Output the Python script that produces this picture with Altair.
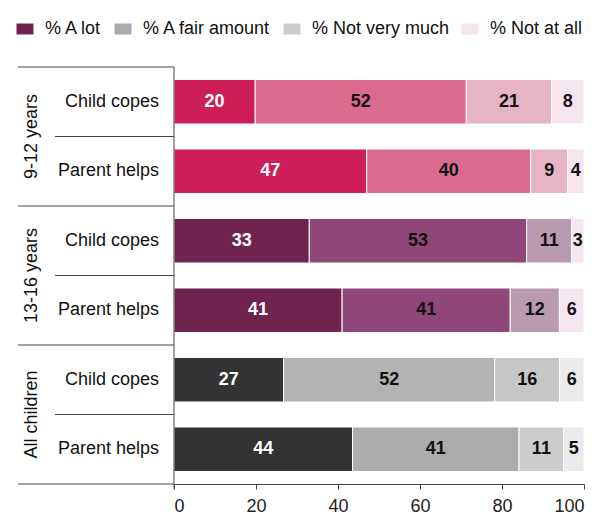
import altair as alt
import pandas as pd

# ---- data ----
categories = ["% A lot", "% A fair amount", "% Not very much", "% Not at all"]
groups = ["9-12 years", "13-16 years", "All children"]
rows = ["Child copes", "Parent helps"]
values = {
    ("9-12 years", "Child copes"): [20, 52, 21, 8],
    ("9-12 years", "Parent helps"): [47, 40, 9, 4],
    ("13-16 years", "Child copes"): [33, 53, 11, 3],
    ("13-16 years", "Parent helps"): [41, 41, 12, 6],
    ("All children", "Child copes"): [27, 52, 16, 6],
    ("All children", "Parent helps"): [44, 41, 11, 5],
}
ticks = [0, 20, 40, 60, 80, 100]

# ---- styles ----
palette = {
    ("9-12 years", "Child copes"): ["#CD1E58", "#DA6B8E", "#E7B4C5", "#F5E5EF"],
    ("9-12 years", "Parent helps"): ["#CD1E58", "#DA6B8E", "#E7B4C5", "#F5E5EF"],
    ("13-16 years", "Child copes"): ["#6F244F", "#8E4778", "#B99AAF", "#F5E6F0"],
    ("13-16 years", "Parent helps"): ["#6F244F", "#8E4778", "#B99AAF", "#F5E6F0"],
    ("All children", "Child copes"): ["#333333", "#B3B3B3", "#C6C6C6", "#EAEAEA"],
    ("All children", "Parent helps"): ["#333333", "#ACACAC", "#CCCCCC", "#EAEAEA"],
}
legend_colors = ["#6E2350", "#ABABAB", "#CCCCCC", "#F5E5EF"]
FONT = "Liberation Sans"
FS = 18
LINE = "#444444"

recs = []
for gi, g in enumerate(groups):
    for ri, r in enumerate(rows):
        idx = gi * 2 + ri
        vals = values[(g, r)]
        tot = sum(vals)
        start = 0.0
        for ci, c in enumerate(categories):
            pct = vals[ci] / tot * 100
            recs.append({
                "group": g, "row": r, "cat": c, "value": vals[ci],
                "x0": start, "x1": start + pct, "xm": start + pct / 2,
                "ytop": idx + 0.18, "ybot": idx + 0.82, "ymid": idx + 0.5,
                "color": palette[(g, r)][ci],
                "tcol": "#FFFFFF" if ci == 0 else "#111111",
            })
            start += pct
df = pd.DataFrame(recs)

row_df = pd.DataFrame([{"label": r, "ymid": gi * 2 + ri + 0.5}
                       for gi, g in enumerate(groups) for ri, r in enumerate(rows)])
group_df = pd.DataFrame([{"label": g, "ymid": gi * 2 + 1.0} for gi, g in enumerate(groups)])
outer_df = pd.DataFrame({"y": [gi * 2 for gi in range(len(groups) + 1)]})
inner_df = pd.DataFrame({"y": [gi * 2 + 1 for gi in range(len(groups))]})
leg_df = pd.DataFrame({"cat": categories})

yscale = alt.Scale(domain=[0, 6], reverse=True)
xscale = alt.Scale(domain=[0, 100], nice=False)

bars = alt.Chart(df).mark_bar(stroke="white", strokeWidth=1).encode(
    x=alt.X("x0:Q", scale=xscale,
            axis=alt.Axis(values=ticks, grid=False, title=None, domainColor=LINE,
                          tickColor=LINE, tickSize=5, labelFontSize=FS, labelFont=FONT,
                          labelColor="#222222", labelPadding=8, domainWidth=1)),
    x2="x1:Q",
    y=alt.Y("ytop:Q", scale=yscale, axis=None),
    y2="ybot:Q",
    fill=alt.Fill("color:N", scale=None),
)

labels = alt.Chart(df).mark_text(font=FONT, fontSize=FS, fontWeight="bold",
                                 align="center", baseline="middle").encode(
    x="xm:Q", y="ymid:Q", text="value:Q",
    fill=alt.Fill("tcol:N", scale=None),
)

outer = alt.Chart(outer_df).mark_rule(color=LINE, strokeWidth=1).encode(
    y="y:Q", x=alt.value(-156), x2=alt.value(0))
inner = alt.Chart(inner_df).mark_rule(color=LINE, strokeWidth=1).encode(
    y="y:Q", x=alt.value(-119), x2=alt.value(0))
vline = alt.Chart(pd.DataFrame({"a": [0]})).mark_rule(color=LINE, strokeWidth=1).encode(
    x=alt.value(0), y=alt.value(0), y2=alt.value(422))

row_text = alt.Chart(row_df).mark_text(font=FONT, fontSize=FS, align="right",
                                       baseline="middle", color="#111111").encode(
    x=alt.value(-15), y="ymid:Q", text="label:N")
group_text = alt.Chart(group_df).mark_text(font=FONT, fontSize=FS, align="center",
                                           baseline="middle", angle=270,
                                           color="#111111").encode(
    x=alt.value(-142), y="ymid:Q", text="label:N")

legend_layer = alt.Chart(leg_df).mark_bar().encode(
    x=alt.value(0), x2=alt.value(0), y=alt.value(0), y2=alt.value(0),
    color=alt.Color("cat:N", scale=alt.Scale(domain=categories, range=legend_colors),
                    legend=alt.Legend(orient="none", legendX=-158, legendY=-47,
                                      direction="horizontal", title=None,
                                      symbolType="M-1,-0.647H1V0.647H-1Z",
                                      symbolSize=289, symbolStrokeWidth=0,
                                      labelFontSize=FS, labelFont=FONT,
                                      labelColor="#111111", labelOffset=11,
                                      columnPadding=11, padding=0)),
)

chart = alt.layer(bars, labels, outer, inner, vline, row_text, group_text,
                  legend_layer).properties(
    width=410, height=417,
    autosize=alt.AutoSizeParams(type="none"),
    padding={"left": 166, "top": 59, "right": 16, "bottom": 30},
).configure_view(stroke=None)

chart.save("out.html", embed_options={"renderer": "svg", "actions": False})
